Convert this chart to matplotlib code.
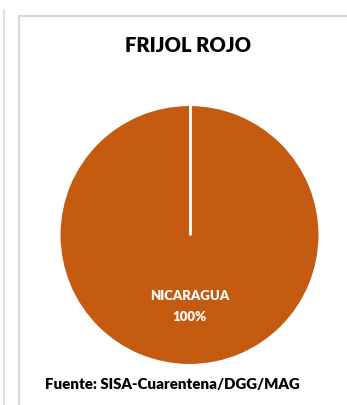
import numpy as np
import matplotlib.pyplot as plt
from matplotlib.patches import Rectangle
from matplotlib.lines import Line2D

labels = ['NICARAGUA']
shares = [100]
colors = ['#C55A11']
title = 'FRIJOL ROJO'
source = 'Fuente: SISA-Cuarentena/DGG/MAG'

W, H = 347, 405
fig = plt.figure(figsize=(W / 100, H / 100), dpi=100)
fig.patch.set_facecolor('white')

# frame lines (px coords -> figure fraction)
fig.add_artist(Line2D([3.5 / W, 3.5 / W], [0, 1 - 10 / H], color='#d9d9d9', lw=1.2))
fig.add_artist(Rectangle((19 / W, -0.01), 1.0, 1 - 16 / H + 0.01, fill=False,
                         edgecolor='#d9d9d9', lw=1.5))

# pie axes: centre (189.5, 235), radius 130 px
cx, cy, r = 189.5, 235, 130
ax = fig.add_axes([(cx - r) / W, (H - cy - r) / H, 2 * r / W, 2 * r / H])
wedges, _ = ax.pie(shares, colors=colors, startangle=90, counterclock=False,
                   radius=1, wedgeprops=dict(edgecolor='white', linewidth=1.5))
# full-circle wedge has no radial edge; draw the seam at its start angle
w = wedges[0]
ang = np.deg2rad(w.theta2)
ax.plot([w.center[0], w.center[0] + w.r * np.cos(ang)],
        [w.center[1], w.center[1] + w.r * np.sin(ang)],
        color='white', lw=2, solid_capstyle='butt')
ax.set_xlim(-1, 1)
ax.set_ylim(-1, 1)
ax.set_aspect('equal')
ax.axis('off')

ax.text(0, -0.47, labels[0], ha='center', va='center', color='white',
        fontsize=9.5, fontweight='heavy', family='Lato')
ax.text(0, -0.63, f'{shares[0]}%', ha='center', va='center', color='white',
        fontsize=9.5, fontweight='heavy', family='Lato')

fig.text(188 / W, 1 - 46 / H, title, ha='center', va='center', fontsize=14.5,
         fontweight='heavy', family='Lato', color='black')
fig.text(172 / W, 1 - 385 / H, source, ha='center', va='center', fontsize=10.8,
         fontweight='heavy', family='Lato', color='black')

fig.savefig('out.png', dpi=100, facecolor='white')
